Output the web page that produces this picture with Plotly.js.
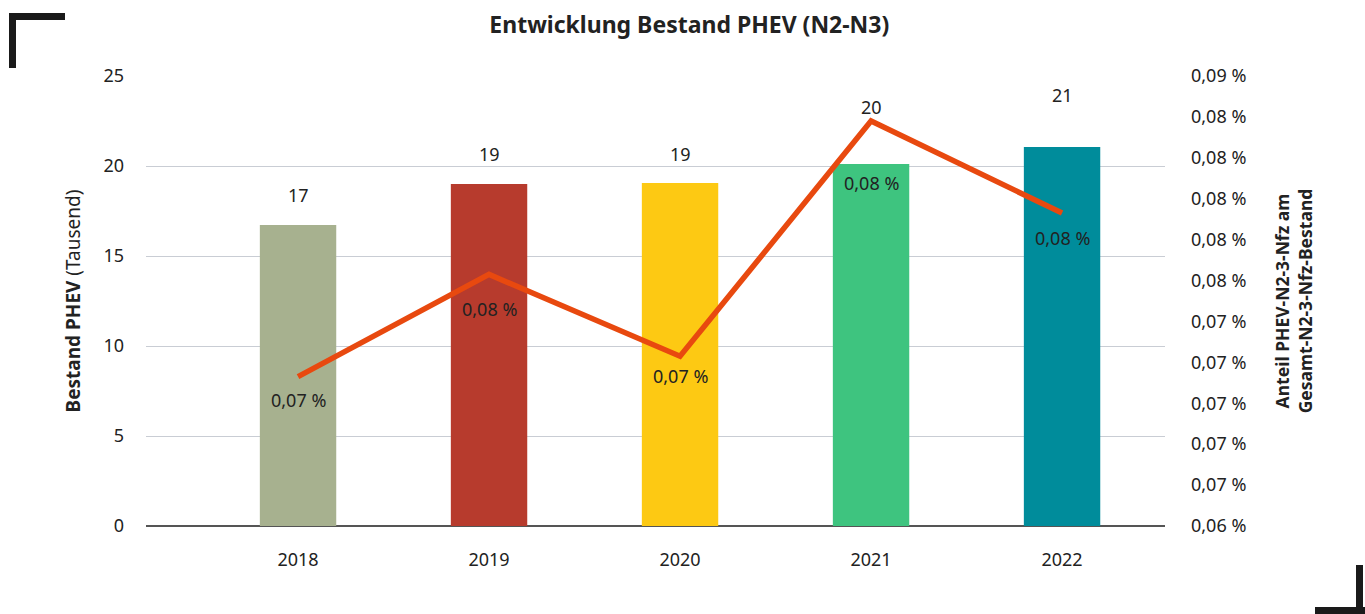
<!DOCTYPE html>
<html>
<head>
<meta charset="utf-8">
<script src="https://cdn.plot.ly/plotly-3.0.1.min.js"></script>
<style>
html,body{margin:0;padding:0;background:#fff;}
#chart{width:1365px;height:614px;position:relative;}
.corner{position:absolute;background:#1a1a1a;}
</style>
</head>
<body>
<div id="chart"></div>
<div class="corner" style="left:9px;top:13px;width:56px;height:7px;"></div>
<div class="corner" style="left:9px;top:13px;width:7px;height:55px;"></div>
<div class="corner" style="left:1356px;top:565px;width:7px;height:49px;"></div>
<div class="corner" style="left:1315px;top:607px;width:50px;height:7px;"></div>
<script>
const years = ['2018', '2019', '2020', '2021', '2022'];
const bestand = [16.72, 19.0, 19.06, 20.11, 21.06];
const bestandLabels = ['17', '19', '19', '20', '21'];
const anteil = [0.0713, 0.0763, 0.0723, 0.0838, 0.0793];
const anteilLabels = ['0,07 %', '0,08 %', '0,07 %', '0,08 %', '0,08 %'];
const rightTickVals = [0.064, 0.066, 0.068, 0.070, 0.072, 0.074, 0.076, 0.078, 0.080, 0.082, 0.084, 0.086];
const rightTickText = ['0,06 %', '0,07 %', '0,07 %', '0,07 %', '0,07 %', '0,07 %', '0,08 %', '0,08 %', '0,08 %', '0,08 %', '0,08 %', '0,09 %'];
const barColors = ['#A7B18F', '#B73B2D', '#FDC913', '#3EC47F', '#008C9B'];

const barLabelShift = [30, 30, 29, 57, 52];
const lineLabelShift = [-23, -35, -20, -62, -25];

const font = "'Source Sans Pro', 'Noto Sans', sans-serif";
const txt = '#222222';

const traces = [
  {
    type: 'bar', x: years, y: bestand, width: 0.4,
    marker: {color: barColors}, hoverinfo: 'skip', showlegend: false
  },
  {
    type: 'scatter', mode: 'lines', x: years, y: anteil, yaxis: 'y2',
    line: {color: '#E8490F', width: 5.5}, hoverinfo: 'skip', showlegend: false
  }
];

const annotations = [];
years.forEach((yr, i) => {
  annotations.push({x: i, y: bestand[i], xref: 'x', yref: 'y', text: bestandLabels[i],
    showarrow: false, yshift: barLabelShift[i], font: {family: font, size: 18, color: txt}});
  annotations.push({x: i, y: anteil[i], xref: 'x', yref: 'y2', text: anteilLabels[i],
    showarrow: false, yshift: lineLabelShift[i], font: {family: font, size: 18, color: txt}});
});

const layout = {
  width: 1365, height: 614,
  margin: {l: 146, r: 200, t: 76, b: 88},
  paper_bgcolor: '#fff', plot_bgcolor: '#fff',
  font: {family: font, size: 18, color: txt},
  title: {text: '<b>Entwicklung Bestand PHEV (N2-N3)</b>', x: 0.505, xref: 'container', y: 0.96, yref: 'container', yanchor: 'middle',
    font: {family: font, size: 23, color: txt}},
  xaxis: {type: 'category', range: [-0.796, 4.539], showgrid: false, zeroline: false, showline: false,
    ticks: '', ticklabelstandoff: 21, tickfont: {family: font, size: 18, color: txt}},
  yaxis: {range: [0, 25], tickvals: [0, 5, 10, 15, 20, 25], showgrid: true, gridcolor: '#C9CDD4', gridwidth: 1,
    zeroline: true, zerolinecolor: '#555', zerolinewidth: 1.5, showline: false, ticks: '',
    ticklabelstandoff: 21, tickfont: {family: font, size: 18, color: txt},
    title: {text: '<b>Bestand PHEV</b> (Tausend)', standoff: 17, font: {family: font, size: 19, color: txt}}},
  yaxis2: {overlaying: 'y', side: 'right', range: [0.064, 0.086], tickvals: rightTickVals, ticktext: rightTickText,
    showgrid: false, zeroline: false, showline: false, ticks: '', ticklabelstandoff: 25,
    tickfont: {family: font, size: 18, color: txt},
    title: {text: '<b>Anteil PHEV-N2-3-Nfz am<br>Gesamt-N2-3-Nfz-Bestand</b>', standoff: 31, font: {family: font, size: 17.5, color: txt}}},
  annotations: annotations,
  bargap: 0.6
};

Plotly.newPlot('chart', traces, layout, {staticPlot: true, displayModeBar: false});
</script>
</body>
</html>
